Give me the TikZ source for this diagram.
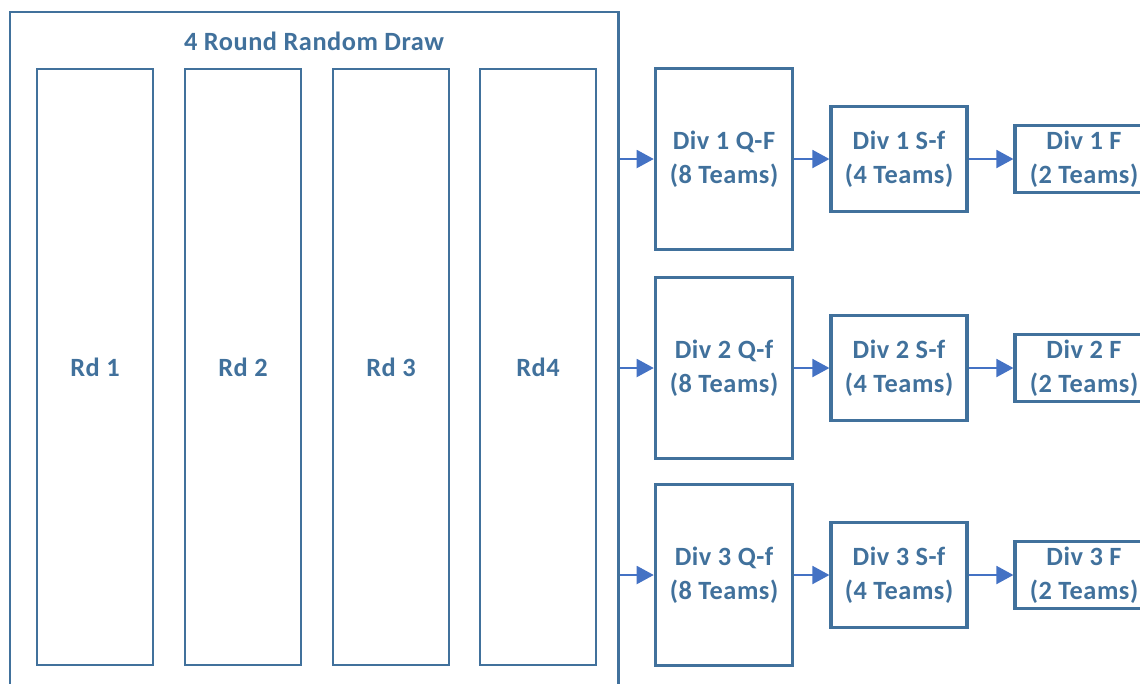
\documentclass[tikz,border=0pt]{standalone}
\usepackage{fontspec}
\setmainfont[LetterSpace=2]{Carlito}
\usetikzlibrary{arrows.meta}
\definecolor{boxblue}{HTML}{41719C}
\definecolor{flowblue}{HTML}{4472C4}

\begin{document}
\begin{tikzpicture}[x=0.2mm, y=0.2mm]
 	\tikzstyle{every node}+=[inner sep=0pt, text=boxblue, align=center, font=\bfseries\fontsize{15}{19.5}\selectfont]
 	\tikzstyle{rdbox}=[draw=boxblue, line width=0.85pt, minimum width=2.32cm, minimum height=11.92cm]
 	\tikzstyle{qfbox}=[draw=boxblue, line width=2pt, minimum width=2.74cm, minimum height=3.62cm]
 	\tikzstyle{sfbox}=[draw=boxblue, line width=1.8pt, minimum width=2.72cm, minimum height=2.1cm]
 	\tikzstyle{fbox}=[draw=boxblue, line width=1.8pt, minimum width=2.76cm, minimum height=1.34cm]
 	\tikzstyle{flow}=[draw=flowblue, line width=1.1pt, -{Triangle[length=0.34cm,width=0.36cm]}]
 	\useasboundingbox (0,0) rectangle (1140,-683);
 	% random draw
 	\node [draw=boxblue, line width=1.7pt, minimum width=12.16cm, minimum height=13.8cm] (rrd) at (314,-357) {};
 	\node (title) at (314,-41) {4 Round Random Draw};
 	\node [rdbox] (rd1) at (95,-367) {Rd 1};
 	\node [rdbox] (rd2) at (243,-367) {Rd 2};
 	\node [rdbox] (rd3) at (391,-367) {Rd 3};
 	\node [rdbox] (rd4) at (538,-367) {Rd4};
 	% quarter finals
 	\node [qfbox] (qf1) at (724,-159) {Div 1 Q-F\\(8 Teams)};
 	\node [qfbox] (qf2) at (724,-368) {Div 2 Q-f\\(8 Teams)};
 	\node [qfbox] (qf3) at (724,-575) {Div 3 Q-f\\(8 Teams)};
 	% semi finals
 	\node [sfbox] (sf1) at (899,-159) {Div 1 S-f\\(4 Teams)};
 	\node [sfbox] (sf2) at (899,-368) {Div 2 S-f\\(4 Teams)};
 	\node [sfbox] (sf3) at (899,-575) {Div 3 S-f\\(4 Teams)};
 	% finals
 	\node [fbox] (f1) at (1084,-159) {Div 1 F\\(2 Teams)};
 	\node [fbox] (f2) at (1084,-368) {Div 2 F\\(2 Teams)};
 	\node [fbox] (f3) at (1084,-575) {Div 3 F\\(2 Teams)};
 	\draw [flow] (rrd.east |- qf1) -- (qf1);
 	\draw [flow] (rrd.east |- qf2) -- (qf2);
 	\draw [flow] (rrd.east |- qf3) -- (qf3);
 	\draw [flow] (qf1) -- (sf1);
 	\draw [flow] (qf2) -- (sf2);
 	\draw [flow] (qf3) -- (sf3);
 	\draw [flow] (sf1) -- (f1);
 	\draw [flow] (sf2) -- (f2);
 	\draw [flow] (sf3) -- (f3);
\end{tikzpicture}
\end{document}
